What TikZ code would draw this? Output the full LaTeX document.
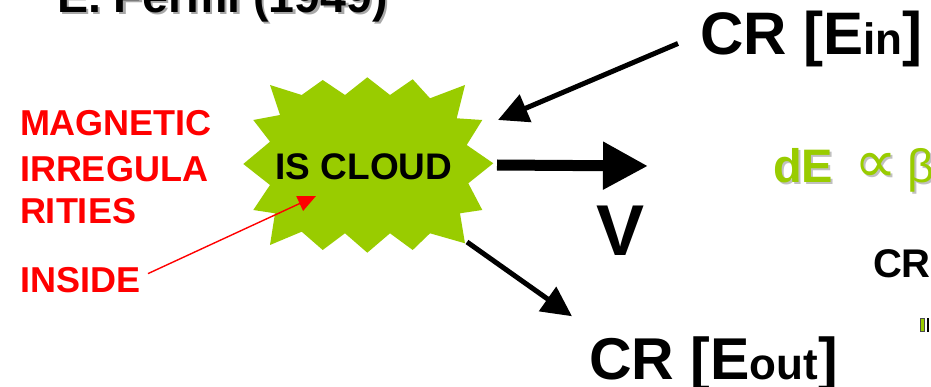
\documentclass[tikz,border=0pt]{standalone}
\usepackage{fontspec}
\setmainfont{Liberation Sans}
\newfontfamily\djv{DejaVu Sans}
\usetikzlibrary{arrows.meta}
\definecolor{cloudgreen}{HTML}{99CC00}
\definecolor{shadowgray}{HTML}{A8A8A8}
\definecolor{lightshadow}{HTML}{C0C0C0}
\tikzset{
  txt/.style={inner sep=0pt, outer sep=0pt, anchor=base west},
  redtxt/.style={txt, text=red, font=\bfseries\fontsize{36}{38}\selectfont},
  blkarrow/.style={draw=black, line width=5pt, -{Triangle[length=30pt,width=29pt]}},
  redarrow/.style={draw=red, line width=1.4pt, -{Triangle[length=18pt,width=16pt]}},
}
\begin{document}
\begin{tikzpicture}[x=1pt,y=-1pt]
\useasboundingbox (0,0) rectangle (931,387);
% title with shadow
\node[txt, text=shadowgray, font=\bfseries\fontsize{46.5}{48}\selectfont] at (59.5,15) {E. Fermi (1949)};
\node[txt, font=\bfseries\fontsize{46.5}{48}\selectfont] (title) at (57,12.5) {E. Fermi (1949)};
% cloud
\fill[cloudgreen] (270,85) -- (301.7,95) -- (322.7,80) -- (345,95) -- (367.3,77.3) -- (390,95)
  -- (412.7,79.3) -- (430,98.3) -- (465,85) -- (456.7,118.3) -- (482.3,120) -- (466.7,145)
  -- (493.3,163.3) -- (468.3,183.3) -- (482.3,210) -- (460,213.3) -- (465,243.3) -- (430,233.3)
  -- (412.7,250) -- (390,233.3) -- (367.3,252.7) -- (345,233.3) -- (322.7,250) -- (301.7,231.7)
  -- (270,245) -- (275,213.3) -- (253.3,210) -- (270,185) -- (243.3,164) -- (270,141.7)
  -- (253.3,120) -- (280,115) -- cycle;
\node[txt, anchor=base, font=\bfseries\fontsize{37}{39}\selectfont] (cloud) at (364,180) {IS CLOUD};
\coordinate (cloudNE) at (498,120);
\coordinate (cloudE) at (497,165);
\coordinate (cloudSE) at (467,242);
\coordinate (cloudIn) at (316,196);
% red labels
\node[redtxt] (mag) at (20,136) {MAGNETIC};
\node[redtxt] (irr) at (20,182) {IRREGULA};
\node[redtxt] (rit) at (20,224) {RITIES};
\node[redtxt] (ins) at (20,292) {INSIDE};
% CR labels
\node[txt, font=\bfseries\fontsize{60}{62}\selectfont] (ein) at (700,55) {CR [E{\fontsize{44}{46}\selectfont in}]};
\node[txt, font=\bfseries\fontsize{59}{61}\selectfont] (eout) at (589,379) {CR [E{\fontsize{44}{46}\selectfont out}]};
\node[txt, font=\bfseries\fontsize{72}{74}\selectfont] (vel) at (596,255) {V};
\coordinate (vtip) at (648,166);
% dE prop beta with shadow
\node[txt, text=lightshadow, font=\bfseries\fontsize{47}{49}\selectfont] at (775,185) {dE};
\node[txt, text=lightshadow, font=\djv\fontsize{60}{62}\selectfont] at (856,185) {∝};
\node[txt, text=lightshadow, font=\fontsize{47}{49}\selectfont] at (909,185) {β};
\node[txt, text=cloudgreen, font=\bfseries\fontsize{47}{49}\selectfont] (de) at (773,183) {dE};
\node[txt, text=cloudgreen, font=\djv\fontsize{60}{62}\selectfont] (prop) at (854,183) {∝};
\node[txt, text=cloudgreen, font=\fontsize{47}{49}\selectfont] (beta) at (907,183) {β};
% right CR and bullet
\node[txt, font=\bfseries\fontsize{40}{42}\selectfont] (cr2) at (873,277) {CR};
\draw[fill=cloudgreen, draw=black!70, line width=0.8pt] (920.5,318.5) rectangle (924.5,331.5);
\fill[black] (926.5,318) rectangle (928.5,332);
% arrows
\draw[blkarrow] ([shift={(-22,4)}]ein.west) -- (cloudNE);
\draw[draw=black, line width=11pt, -{Triangle[length=45pt,width=45pt]}] (cloudE) -- (vtip);
\draw[blkarrow] (cloudSE) -- ([shift={(-17,-20)}]eout.north west);
\draw[redarrow] ([shift={(8,-6)}]ins.east) -- (cloudIn);
\end{tikzpicture}
\end{document}
